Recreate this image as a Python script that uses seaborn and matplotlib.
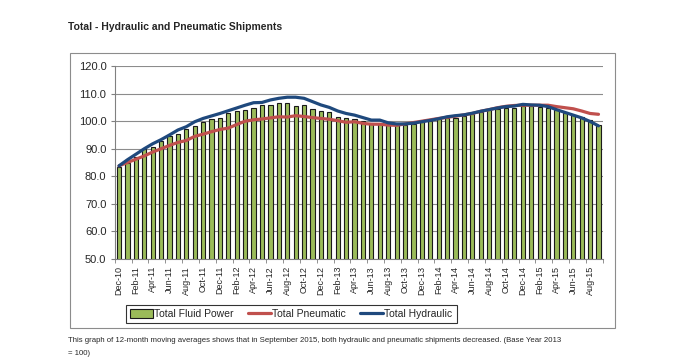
import numpy as np
import pandas as pd
import seaborn as sns
import matplotlib.pyplot as plt
from matplotlib.patches import Rectangle, Patch
from matplotlib.lines import Line2D

# month labels Dec-10 .. Sep-15
months = ['Dec-10',
          'Jan-11', 'Feb-11', 'Mar-11', 'Apr-11', 'May-11', 'Jun-11', 'Jul-11', 'Aug-11', 'Sep-11', 'Oct-11', 'Nov-11', 'Dec-11',
          'Jan-12', 'Feb-12', 'Mar-12', 'Apr-12', 'May-12', 'Jun-12', 'Jul-12', 'Aug-12', 'Sep-12', 'Oct-12', 'Nov-12', 'Dec-12',
          'Jan-13', 'Feb-13', 'Mar-13', 'Apr-13', 'May-13', 'Jun-13', 'Jul-13', 'Aug-13', 'Sep-13', 'Oct-13', 'Nov-13', 'Dec-13',
          'Jan-14', 'Feb-14', 'Mar-14', 'Apr-14', 'May-14', 'Jun-14', 'Jul-14', 'Aug-14', 'Sep-14', 'Oct-14', 'Nov-14', 'Dec-14',
          'Jan-15', 'Feb-15', 'Mar-15', 'Apr-15', 'May-15', 'Jun-15', 'Jul-15', 'Aug-15', 'Sep-15']

fluid_power = [83.5,
               84.8, 87.0, 89.8, 90.7, 92.7, 94.5, 95.3, 97.0, 98.1, 99.7, 100.7, 101.3,
               102.8, 103.7, 104.0, 104.8, 105.7, 105.8, 106.6, 106.6, 105.5, 105.8, 104.6, 103.6,
               103.2, 101.7, 101.1, 100.8, 100.2, 99.4, 99.0, 98.6, 98.5, 98.6, 99.0, 99.6,
               100.2, 100.8, 101.1, 101.3, 101.9, 102.5, 103.3, 103.9, 104.4, 104.9, 104.9, 105.5,
               105.5, 105.3, 104.9, 103.9, 103.1, 102.3, 101.6, 100.4, 98.6]

pneumatic = [83.8,
             85.0, 86.2, 87.4, 88.8, 90.0, 91.2, 92.3, 93.0, 94.5, 95.3, 96.2, 97.0,
             97.5, 98.8, 100.0, 100.5, 100.8, 101.2, 101.6, 101.5, 102.0, 101.7, 101.3, 101.0,
             100.7, 100.2, 99.6, 99.8, 99.2, 98.9, 98.9, 98.6, 98.5, 99.0, 99.5, 100.0,
             100.5, 101.0, 101.4, 101.8, 102.3, 102.8, 103.6, 104.2, 104.9, 105.4, 105.7, 105.8,
             105.8, 105.8, 105.8, 105.3, 104.9, 104.5, 103.7, 102.8, 102.5]

hydraulic = [83.8,
             86.0, 88.0, 90.0, 91.8, 93.3, 95.0, 96.8, 98.0, 99.8, 101.0, 101.9, 102.8,
             103.8, 104.8, 105.8, 106.7, 106.8, 107.7, 108.3, 108.7, 108.7, 108.3, 107.1, 105.9,
             105.0, 103.7, 102.8, 102.2, 101.3, 100.4, 100.4, 99.4, 99.0, 99.0, 99.3, 99.8,
             100.3, 100.9, 101.6, 102.0, 102.3, 102.9, 103.6, 104.2, 104.8, 105.3, 105.5, 106.1,
             105.9, 105.8, 105.3, 104.2, 103.2, 102.2, 101.2, 99.9, 98.3]

df = pd.DataFrame({'month': months, 'fluid': fluid_power,
                   'pneu': pneumatic, 'hyd': hydraulic})
df['idx'] = np.arange(len(df))

sns.set_style('white')
plt.rcParams['font.family'] = ['Liberation Sans', 'DejaVu Sans']

fig = plt.figure(figsize=(7, 3.62), dpi=100)
ax = fig.add_axes([0.164, 0.2845, 0.697, 0.533])

green = '#9BBB59'
red = '#C0504D'
blue = '#1F497D'

sns.barplot(data=df, x='month', y='fluid', order=months, color=green,
            edgecolor='#1a1a1a', linewidth=0.8, width=0.5, saturation=1, ax=ax)
sns.lineplot(data=df, x='idx', y='pneu', color=red, linewidth=2.3, ax=ax)
sns.lineplot(data=df, x='idx', y='hyd', color=blue, linewidth=2.3, ax=ax)

ax.set_xlim(-0.5, len(months) - 0.5)
ax.set_ylim(50, 120)
ax.set_yticks(np.arange(50, 121, 10))
ax.set_yticklabels([f'{v:.1f}' for v in np.arange(50, 121, 10)], fontsize=8)
ax.set_xticks(df['idx'][::2])
ax.set_xticklabels(months[::2], rotation=90, fontsize=6.5)
ax.set_xticks(np.arange(-0.5, len(months), 2), minor=True)
ax.tick_params(axis='x', which='major', length=0, pad=5)
ax.tick_params(axis='x', which='minor', length=3, color='#808080', bottom=True)
ax.tick_params(axis='y', length=3, color='#808080', left=True, pad=3)
ax.yaxis.grid(True, color='#8c8c8c', linewidth=0.8)
ax.set_axisbelow(True)
for s in ['top', 'right']:
    ax.spines[s].set_visible(False)
for s in ['left', 'bottom']:
    ax.spines[s].set_color('#808080')
    ax.spines[s].set_linewidth(0.8)
ax.set_xlabel('')
ax.set_ylabel('')

# outer chart border
fig.patches.append(Rectangle((0.1, 0.094), 0.779, 0.76, transform=fig.transFigure,
                             fill=False, edgecolor='#8c8c8c', linewidth=0.8))

handles = [Patch(facecolor=green, edgecolor='#1a1a1a', linewidth=0.8),
           Line2D([], [], color=red, linewidth=2.3),
           Line2D([], [], color=blue, linewidth=2.3)]
leg = fig.legend(handles, ['Total Fluid Power', 'Total Pneumatic', 'Total Hydraulic'],
                 loc='center', bbox_to_anchor=(0.416, 0.133), ncol=3, fontsize=7.5,
                 frameon=True, fancybox=False, edgecolor='black', handlelength=2.2,
                 handleheight=0.9, handletextpad=0.1, columnspacing=1.4, borderpad=0.4)
leg.get_frame().set_linewidth(0.8)

fig.text(0.097, 0.925, 'Total - Hydraulic and Pneumatic Shipments', fontsize=7.5,
         fontweight='bold', va='center')
fig.text(0.097, 0.07, 'This graph of 12-month moving averages shows that in September 2015, '
         'both hydraulic and pneumatic shipments decreased. (Base Year 2013\n= 100)',
         fontsize=5.6, va='top', linespacing=2.2)

fig.savefig('out.png', dpi=100)
